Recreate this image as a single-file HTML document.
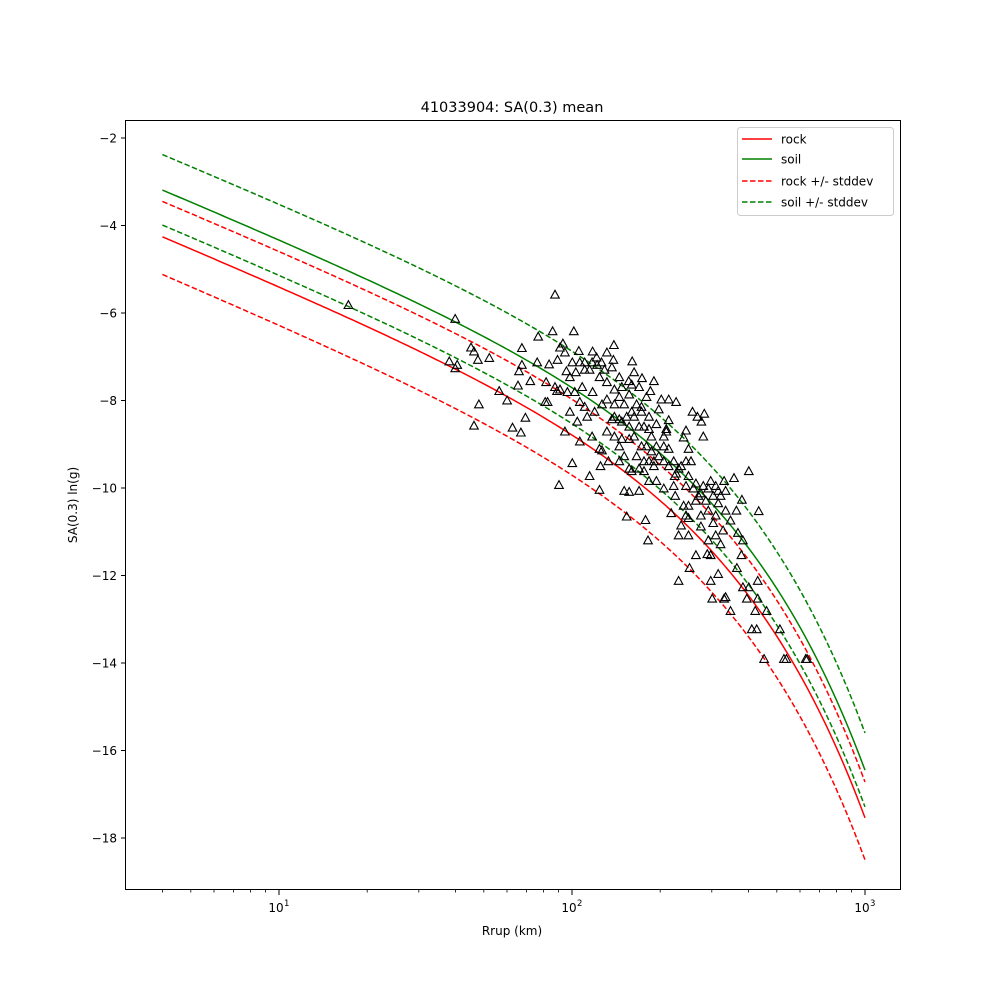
<!DOCTYPE html>
<html><head><meta charset="utf-8"><style>
html,body{margin:0;padding:0;background:#fff}
svg{display:block;font-family:"DejaVu Sans","Liberation Sans",sans-serif}
</style></head><body>
<svg id="s" width="1000" height="1000" viewBox="0 0 1000 1000" xmlns="http://www.w3.org/2000/svg">
<rect width="1000" height="1000" fill="#fff"/>
<text x="512" y="112" font-size="14.5" text-anchor="middle">41033904: SA(0.3) mean</text>
<text x="512" y="935" font-size="12" text-anchor="middle">Rrup (km)</text>
<text transform="translate(77,505) rotate(-90)" font-size="12" text-anchor="middle">SA(0.3) ln(g)</text>
<g id="ticks" font-size="12" fill="#000"></g>
<g id="curves" fill="none" stroke-width="1.5"></g>
<g id="pts" fill="none" stroke="#000" stroke-width="1.1"></g>
<rect x="125.5" y="120.5" width="775" height="769" fill="none" stroke="#000" stroke-width="1"/>
<g>
<rect x="737.5" y="127.5" width="156" height="88" rx="3" fill="#fff" fill-opacity="0.8" stroke="#ccc"/>
<line x1="742" y1="139" x2="772" y2="139" stroke="#ff0000" stroke-width="1.5"/>
<line x1="742" y1="159" x2="772" y2="159" stroke="#008000" stroke-width="1.5"/>
<line x1="742" y1="181" x2="772" y2="181" stroke="#ff0000" stroke-width="1.5" stroke-dasharray="5.5,2.5"/>
<line x1="742" y1="202" x2="772" y2="202" stroke="#008000" stroke-width="1.5" stroke-dasharray="5.5,2.5"/>
<text x="781" y="143.5" font-size="12">rock</text>
<text x="781" y="163.5" font-size="12">soil</text>
<text x="781" y="185.5" font-size="12">rock +/- stddev</text>
<text x="781" y="206.5" font-size="12">soil +/- stddev</text>
</g>
</svg>
<script>
var NS="http://www.w3.org/2000/svg";
var t=document.getElementById("ticks");
function el(par,n,a,txt){var e=document.createElementNS(NS,n);for(var k in a)e.setAttribute(k,a[k]);if(txt!==undefined)e.textContent=txt;par.appendChild(e);return e;}
function Y(v){return 138+(-2-v)*43.75;}
function X(r){return 279+293*(Math.log10(r)-1);}
for(var v=-2;v>=-18;v-=2){var y=Y(v);el(t,"line",{x1:121,x2:125,y1:y,y2:y,stroke:"#000"});el(t,"text",{x:117,y:y+4.5,"text-anchor":"end"},"\u2212"+(-v));}
[1,2,3].forEach(function(d){var x=X(Math.pow(10,d));el(t,"line",{x1:x,x2:x,y1:890,y2:895,stroke:"#000"});
el(t,"text",{x:x-3,y:912,"text-anchor":"middle"},"10");el(t,"text",{x:x+5,y:906,"font-size":"8.5"},""+d);});
[1,10,100].forEach(function(b){for(var k=2;k<=9;k++){var x=X(b*k);if(x<126||x>899)continue;el(t,"line",{x1:x,x2:x,y1:890,y2:892.5,stroke:"#000","stroke-width":0.8});}});
function rock(r){return -2.556-1.2097*Math.log(r)-0.006627*r;}
var cg=document.getElementById("curves");
function curve(off,col,dash){var pts=[];for(var i=0;i<=200;i++){var r=4*Math.pow(250,i/200);pts.push(X(r).toFixed(2)+","+Y(rock(r)+off(r)).toFixed(2));}
var a={points:pts.join(" "),stroke:col};if(dash)a["stroke-dasharray"]="5.5,2.5";el(cg,"polyline",a);}
function lin(a,b){return function(r){var f=Math.log(r/4)/Math.log(250);return a+(b-a)*f;};}
curve(lin(0,0),"#ff0000");
curve(lin(1.07,1.09),"#008000");
curve(lin(0.81,0.82),"#ff0000",1);
curve(lin(-0.86,-0.96),"#ff0000",1);
curve(lin(1.88,1.94),"#008000",1);
curve(lin(0.27,0.25),"#008000",1);
var P=[452,374,668,402,870,353,836,438,865,427,908,427,989,455,700,460,706,468,714,485,737,481,656,488,672,495,668,502,803,461,803,495,797,508,834,490,858,494,880,460,886,452,918,467,946,468,954,480,964,490,988,485,1026,488,1019,528,1030,510,1046,522,1070,528,1063,548,757,548,773,567,716,575,706,618,810,602,784,622,801,632,795,537,820,528,852,530,850,570,874,548,893,508,905,490,912,510,930,505,946,550,960,520,975,530,990,545,1000,560,1010,575,1020,555,1035,575,1045,590,1060,600,1080,585,1085,565,1100,565,1115,570,1100,607,1148,590,1158,600,1172,594,1166,610,1170,640,1135,628,1130,642,1140,665,1145,690,1135,690,1120,705,1112,720,1095,630,1090,660,1080,680,1070,700,1050,710,1060,730,1040,750,1020,705,1010,680,1000,660,990,640,975,630,960,665,945,640,935,600,920,570,900,590,890,630,915,610,920,650,940,720,962,700,965,668,978,690,960,748,905,694,878,738,1010,750,1020,752,1015,802,1053,809,1058,850,1105,795,1120,840,1113,760,1130,780,1140,805,1160,760,1170,740,1185,730,1200,750,1212,730,1232,724,1262,710,1248,768,1237,790,1282,791,1195,800,1180,790,1165,822,1180,850,1195,840,1210,830,1240,835,1250,850,1205,858,1178,878,1155,880,1185,880,1247,880,1238,906,1142,906,1120,932,1185,932,1200,918,1188,968,1212,968,1225,993,1250,945,1262,945,1280,932,1258,968,1280,968,1275,993,1298,993,1268,1030,1278,1030,1325,1030,1293,1090,1333,1090,1338,1090,1377,1090,1380,1090,1215,965,1110,740,1090,745,1075,730,1060,690,1045,660,1030,640,1020,620,1005,610,990,600,985,605,1000,605,1030,600,1050,620,1065,640,1075,660,1090,640,1100,665,1110,690,1125,700,1140,720,1150,745,1155,770,1175,770,1190,760,1200,775,1215,790,1225,810,1190,815,1165,800,1140,780,1135,800,1125,820,1140,840,930,490,940,505,955,495,970,505,985,500,1000,520,1005,540,1025,535,1040,540,1055,560,1045,580,1025,590,1015,600,990,575,975,565,965,575,950,590,930,580,925,540,910,550,895,550,880,545,870,540,855,570,890,470,875,485,920,490,945,490,900,520,975,470,1055,660,1065,670,1035,680,1050,690,1070,690,1090,690,1100,700,1115,715,1135,740,1155,735,1165,755,1180,745,1195,740,1205,760,1215,750,1000,690,1025,710,1040,705,1005,645,1020,645,1040,620,1060,625,1075,615,1095,625];
var g=document.getElementById("pts"),d="";
for(var i=0;i<P.length;i+=2){var x=125+P[i]*0.4943,y=120+P[i+1]*0.4943;d+="M"+(x-4.3).toFixed(1)+","+(y+3.6).toFixed(1)+"L"+(x+4.3).toFixed(1)+","+(y+3.6).toFixed(1)+"L"+x.toFixed(1)+","+(y-4.2).toFixed(1)+"Z";}
el(g,"path",{d:d});
</script>
</body></html>
